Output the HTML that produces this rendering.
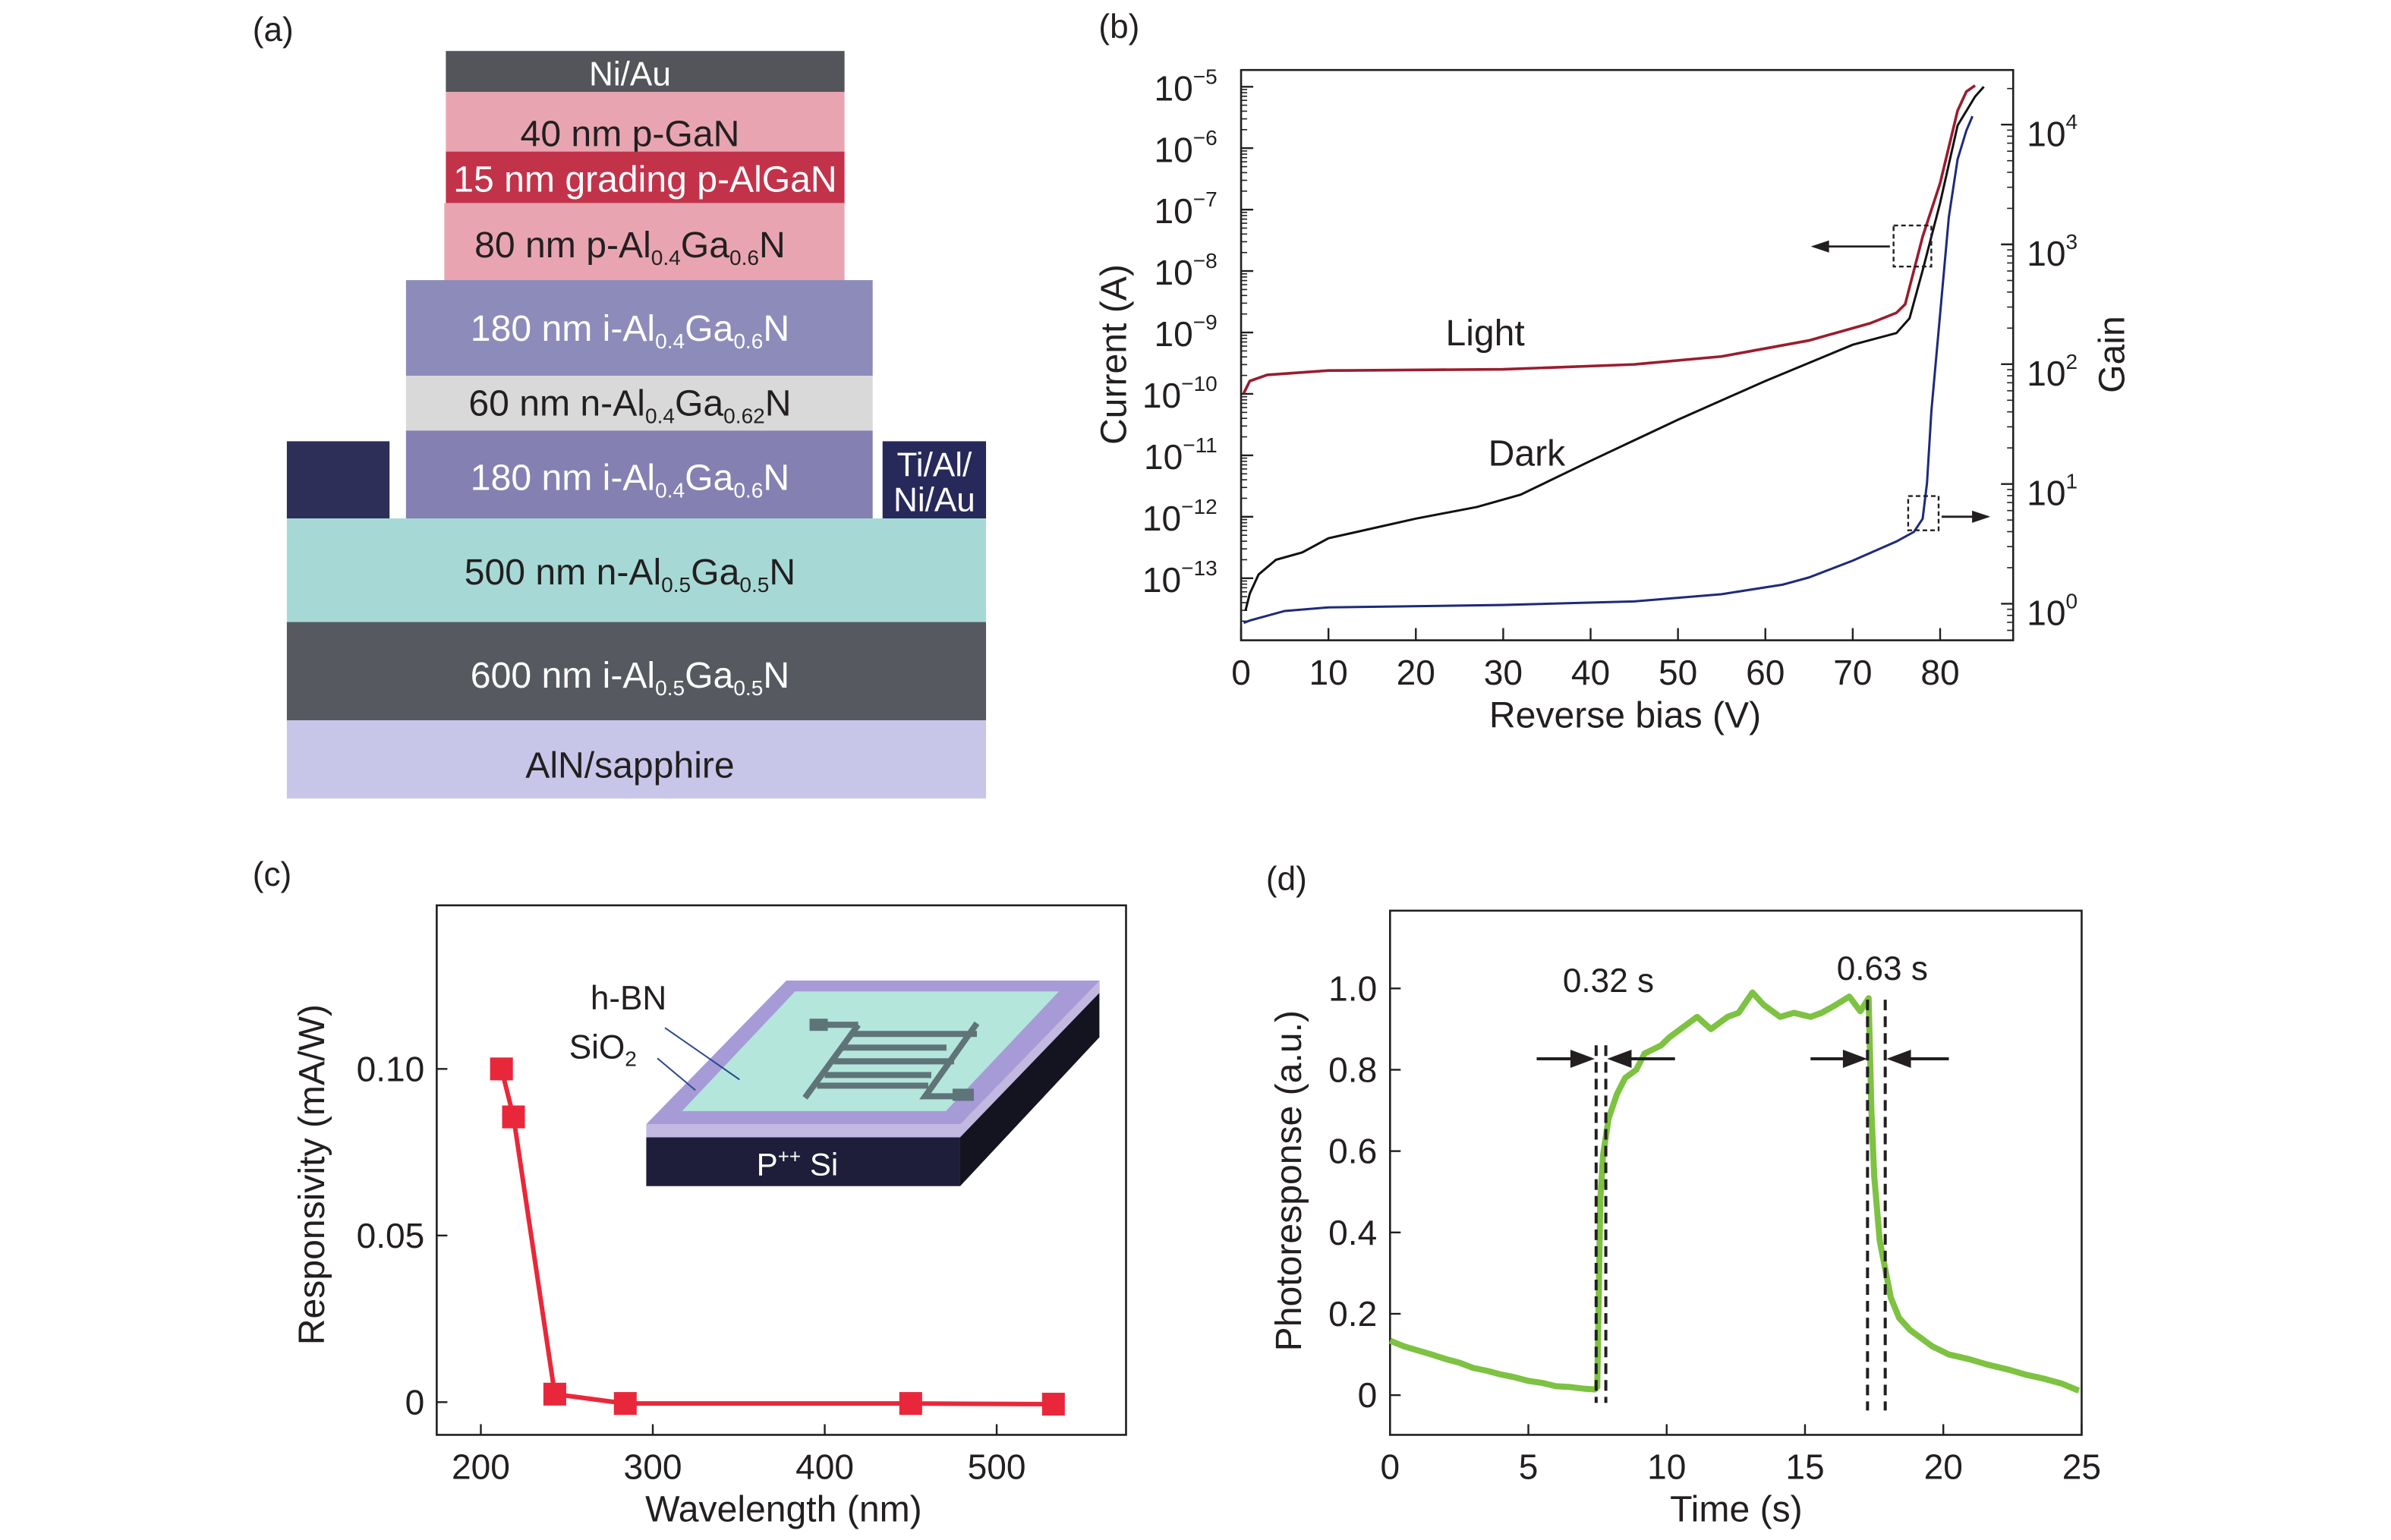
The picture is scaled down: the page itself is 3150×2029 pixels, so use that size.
<!DOCTYPE html>
<html><head><meta charset="utf-8"><style>
html,body{margin:0;padding:0;background:#fff;}
svg{display:block;}
text{font-family:"Liberation Sans Narrow","Liberation Sans",sans-serif;fill:#231f20;}
</style></head><body>
<svg id="fig" width="3150" height="2029" viewBox="0 0 1571.3 1012.1" preserveAspectRatio="none" xmlns="http://www.w3.org/2000/svg">
<rect x="0" y="0" width="1571.3" height="1012.1" fill="#fff"/>
<g font-size="24">
<text x="166" y="27" font-size="22">(a)</text>
<rect x="293" y="33.5" width="262" height="27" fill="#53555b"/>
<text x="414" y="56" text-anchor="middle" style="fill:#fff" font-size="22">Ni/Au</text>
<rect x="293" y="60.4" width="262" height="39.2" fill="#e8a5b1"/>
<text x="414" y="96" text-anchor="middle">40 nm p-GaN</text>
<rect x="293" y="99.6" width="262" height="33.9" fill="#c2334a"/>
<text x="424" y="126" text-anchor="middle" style="fill:#fff">15 nm grading p-AlGaN</text>
<rect x="292" y="133.5" width="263" height="50.6" fill="#e8a5b1"/>
<text x="414" y="169" text-anchor="middle">80 nm p-Al<tspan font-size="14" dy="5">0.4</tspan><tspan dy="-5">Ga</tspan><tspan font-size="14" dy="5">0.6</tspan><tspan dy="-5">N</tspan></text>
<rect x="266.8" y="184.1" width="306.7" height="62.9" fill="#8c8bb9"/>
<text x="414" y="224" text-anchor="middle" style="fill:#fff">180 nm i-Al<tspan font-size="14" dy="5">0.4</tspan><tspan dy="-5">Ga</tspan><tspan font-size="14" dy="5">0.6</tspan><tspan dy="-5">N</tspan></text>
<rect x="266.8" y="247" width="306.7" height="36" fill="#d9d9da"/>
<text x="414" y="273" text-anchor="middle">60 nm n-Al<tspan font-size="14" dy="5">0.4</tspan><tspan dy="-5">Ga</tspan><tspan font-size="14" dy="5">0.62</tspan><tspan dy="-5">N</tspan></text>
<rect x="266.8" y="283" width="306.7" height="57.7" fill="#8480b1"/>
<text x="414" y="322" text-anchor="middle" style="fill:#fff">180 nm i-Al<tspan font-size="14" dy="5">0.4</tspan><tspan dy="-5">Ga</tspan><tspan font-size="14" dy="5">0.6</tspan><tspan dy="-5">N</tspan></text>
<rect x="188.5" y="290" width="67.5" height="50.7" fill="#2d2f58"/>
<rect x="580" y="290" width="68" height="50.7" fill="#27295a"/>
<text x="614" y="313" text-anchor="middle" font-size="22" style="fill:#fff">Ti/Al/</text>
<text x="614" y="336" text-anchor="middle" font-size="22" style="fill:#fff">Ni/Au</text>
<rect x="188.5" y="340.7" width="459.5" height="68.1" fill="#a6d9d6"/>
<text x="414" y="384" text-anchor="middle">500 nm n-Al<tspan font-size="14" dy="5">0.5</tspan><tspan dy="-5">Ga</tspan><tspan font-size="14" dy="5">0.5</tspan><tspan dy="-5">N</tspan></text>
<rect x="188.5" y="408.8" width="459.5" height="64.6" fill="#565a60"/>
<text x="414" y="452" text-anchor="middle" style="fill:#fff">600 nm i-Al<tspan font-size="14" dy="5">0.5</tspan><tspan dy="-5">Ga</tspan><tspan font-size="14" dy="5">0.5</tspan><tspan dy="-5">N</tspan></text>
<rect x="188.5" y="473.4" width="459.5" height="51.4" fill="#c8c6e8"/>
<text x="414" y="511" text-anchor="middle">AlN/sapphire</text>
</g>
<g id="pb"></g>
<g id="pc"></g>
<g id="pd"></g>
</svg>
<script>
// ---------- Panel b data ----------
const bTicksX = [0,10,20,30,40,50,60,70,80];
const bCurrentExp = [-5,-6,-7,-8,-9,-10,-11,-12,-13];
const bGainExp = [4,3,2,1,0];
const lightV = [0.3,1,3,10,30,45,55,65,72,75,76,77,78,80,82,83,84];
const lightLogI = [-9.99,-9.79,-9.69,-9.62,-9.60,-9.52,-9.39,-9.13,-8.85,-8.68,-8.54,-7.99,-7.44,-6.57,-5.39,-5.08,-4.98];
const darkV = [0.5,1,2,4,7,10,15,20,27,32,40,50,60,70,75,76.5,78,80,82,84,85];
const darkLogI = [-13.53,-13.25,-12.94,-12.70,-12.58,-12.35,-12.19,-12.03,-11.84,-11.64,-11.09,-10.42,-9.79,-9.20,-9.01,-8.77,-7.99,-6.89,-5.63,-5.16,-5.0];
const gainV = [0.3,1,5,10,30,45,55,62,65,70,75,77,78,78.5,79,80,81,82,83,83.7];
const gainLog = [-0.16,-0.14,-0.06,-0.03,-0.01,0.02,0.08,0.16,0.22,0.36,0.52,0.60,0.71,1.01,1.61,2.42,3.23,3.71,3.95,4.07];
// ---------- Panel c data ----------
const cTicksX = [200,300,400,500];
const cTicksY = [0,0.05,0.10];
const cTickLabelsY = ["0","0.05","0.10"];
const wavelength = [212,219,243,284,450,533];
const responsivity = [0.100,0.0856,0.0024,-0.0004,-0.0004,-0.0006];
// ---------- Panel d data ----------
const dTicksX = [0,5,10,15,20,25];
const dTicksY = [0,0.2,0.4,0.6,0.8,1.0];
const dTickLabelsY = ["0","0.2","0.4","0.6","0.8","1.0"];
const timeS = [0,0.5,1,1.5,2,2.5,3,3.5,4,4.5,5,5.5,6,6.5,7,7.4,7.49,7.6,7.7,7.9,8.2,8.5,8.9,9.2,9.5,9.8,10.1,10.5,11.1,11.6,12.2,12.6,13.1,13.5,14.1,14.6,15.2,15.6,16.0,16.6,17.0,17.3,17.4,17.5,17.7,18.1,18.4,18.8,19.6,20.2,20.9,21.6,22.4,23.0,23.6,24.3,24.9];
const photoresp = [0.134,0.12,0.11,0.10,0.089,0.08,0.067,0.06,0.051,0.044,0.035,0.03,0.022,0.02,0.016,0.014,0.02,0.48,0.59,0.68,0.74,0.78,0.80,0.84,0.85,0.86,0.88,0.90,0.93,0.90,0.93,0.94,0.99,0.96,0.93,0.94,0.93,0.94,0.955,0.98,0.944,0.976,0.70,0.54,0.38,0.24,0.19,0.16,0.12,0.10,0.089,0.075,0.062,0.05,0.041,0.028,0.011];
const dMarkerT = [7.45,7.8,17.26,17.9];

const NS = "http://www.w3.org/2000/svg";
function mk(parent, tag, attrs, txt){
  const e = document.createElementNS(NS, tag);
  for (const k in attrs) e.setAttribute(k, attrs[k]);
  if (txt !== undefined) e.textContent = txt;
  parent.appendChild(e);
  return e;
}
function pathFrom(xs, ys, fx, fy){
  return xs.map((v,i)=>(i?'L':'M')+fx(v).toFixed(2)+','+fy(ys[i]).toFixed(2)).join(' ');
}

// ===== Panel b =====
(function(){
  const g = document.getElementById('pb');
  const L=815.6,R=1323,T=46,B=420.8;
  const bx = v => L + v*(1275-815.6)/80;
  const by = l => 57 + (-5 - l)*((380-57)/8);
  const gy = l => 396.8 - l*((396.8-81.9)/4);
  let t = mk(g,'text',{x:722,y:25,'font-size':22},'(b)');
  
  
  const frame = mk(g,'rect',{x:L,y:T,width:R-L,height:B-T,fill:'none',stroke:'#231f20','stroke-width':1.3});
  
  
  bTicksX.forEach(v=>{
    const tk = mk(g,'line',{x1:bx(v),x2:bx(v),y1:B,y2:B-8,stroke:'#231f20','stroke-width':1.2});
    
    
    const lb = mk(g,'text',{x:bx(v),y:450,'text-anchor':'middle','font-size':23},String(v));
    
    
  });
  bCurrentExp.forEach(e=>{
    const y = by(e);
    const tk = mk(g,'line',{x1:L,x2:L+8,y1:y,y2:y,stroke:'#231f20','stroke-width':1.2});
    
    
    for(let m=2;m<=9;m++){
      const ym = by(e-1+Math.log10(m));
      if (ym < B-1 && ym > T+1) mk(g,'line',{x1:L,x2:L+4,y1:ym,y2:ym,stroke:'#231f20','stroke-width':0.8});
    }
    const lb = mk(g,'text',{x:800,y:y+9,'text-anchor':'end','font-size':23});
    
    
    mk(lb,'tspan',{},'10');
    mk(lb,'tspan',{'font-size':14,dy:-11},'\u2212'+(-e));
  });
  bGainExp.forEach(e=>{
    const y = gy(e);
    const tk = mk(g,'line',{x1:R,x2:R-8,y1:y,y2:y,stroke:'#231f20','stroke-width':1.2});
    
    
    for(let m=2;m<=9;m++){
      const ym = gy(e-1+Math.log10(m));
      if (ym < B-1 && ym > T+1) mk(g,'line',{x1:R,x2:R-4,y1:ym,y2:ym,stroke:'#231f20','stroke-width':0.8});
    }
    if (e===4) for(let m=2;m<=9;m++){const ym=gy(4+Math.log10(m)); if(ym>T+1) mk(g,'line',{x1:R,x2:R-4,y1:ym,y2:ym,stroke:'#231f20','stroke-width':0.8});}
    const lb = mk(g,'text',{x:1332,y:y+14,'text-anchor':'start','font-size':23});
    
    
    mk(lb,'tspan',{},'10');
    mk(lb,'tspan',{'font-size':14,dy:-11},String(e));
  });
  let a = mk(g,'text',{x:0,y:0,'text-anchor':'middle','font-size':24,transform:'translate(740,233) rotate(-90)','font-family':'Liberation Sans, sans-serif'},'Current (A)');
  
  
  a = mk(g,'text',{x:0,y:0,'text-anchor':'middle','font-size':24,transform:'translate(1396,233) rotate(-90)','font-family':'Liberation Sans, sans-serif'},'Gain');
  
  
  a = mk(g,'text',{x:1068,y:478,'text-anchor':'middle','font-size':24},'Reverse bias (V)');
  
  
  let p = mk(g,'path',{d:pathFrom(lightV,lightLogI,bx,by),fill:'none',stroke:'#9a1d2e','stroke-width':1.8});
  
  
  p = mk(g,'path',{d:pathFrom(darkV,darkLogI,bx,by),fill:'none',stroke:'#111','stroke-width':1.5});
  
  
  p = mk(g,'path',{d:pathFrom(gainV,gainLog,bx,gy),fill:'none',stroke:'#1e2a7a','stroke-width':1.5});
  
  
  a = mk(g,'text',{x:950,y:227,'font-size':24},'Light');
  
  
  a = mk(g,'text',{x:978,y:306,'font-size':24},'Dark');
  
  
  a = mk(g,'rect',{x:1244.4,y:148.2,width:24.8,height:27,fill:'none',stroke:'#231f20','stroke-width':1.2,'stroke-dasharray':'3,2'});
  
  
  mk(g,'line',{x1:1242,x2:1200,y1:162,y2:162,stroke:'#231f20','stroke-width':1.4});
  mk(g,'path',{d:'M1190,162 L1202,158 L1202,166 Z',fill:'#231f20'});
  a = mk(g,'rect',{x:1254,y:326,width:20,height:22.5,fill:'none',stroke:'#231f20','stroke-width':1.2,'stroke-dasharray':'3,2'});
  
  
  mk(g,'line',{x1:1276,x2:1298,y1:339.6,y2:339.6,stroke:'#231f20','stroke-width':1.4});
  mk(g,'path',{d:'M1308,339.6 L1296,335.6 L1296,343.6 Z',fill:'#231f20'});
})();

// ===== Panel c =====
(function(){
  const g = document.getElementById('pc');
  const L=287,R=740,T=595,B=943;
  const cx = v => 316 + (v-200)*(655-316)/300;
  const cy = v => 921.5 - v*(921.5-702.5)/0.10;
  let t = mk(g,'text',{x:166,y:582,'font-size':22},'(c)');
  
  
  const ins = mk(g,'g',{transform:'translate(2,7.5)'});
  
  
  mk(ins,'path',{d:'M720.5,636.9 L720.5,674.2 L629,772 L629,731.3 Z',fill:'#141420'});
  mk(ins,'path',{d:'M422.7,739.9 L629,739.9 L629,772 L422.7,772 Z',fill:'#1e1e3a'});
  mk(ins,'path',{d:'M422.7,731.3 L629,731.3 L720.5,636.9 L720.5,645 L629,739.9 L422.7,739.9 Z',fill:'#c3b8e0'});
  mk(ins,'path',{d:'M514.8,636.9 L720.5,636.9 L629,731.3 L422.7,731.3 Z',fill:'#a69bd6'});
  mk(ins,'path',{d:'M520.5,644.1 L693.9,644.1 L619.6,722.7 L446.2,722.7 Z',fill:'#b4e6dc'});
  const el = mk(ins,'g',{stroke:'#5f7478','stroke-width':4,fill:'none'});
  
  
  mk(el,'path',{d:'M540,666 L562,666 M562,666 L527,714 M558,672 L640,672 M552,681 L620,681 M546,690 L625,690 M540,699 L610,699 M535,706 L608,706 M640,665 L606,713 L628,713'});
  mk(el,'rect',{x:530,y:662,width:12,height:8,fill:'#5f7478','stroke-width':0});
  mk(el,'rect',{x:624,y:708,width:14,height:8,fill:'#5f7478','stroke-width':0});
  mk(ins,'text',{x:386,y:656,'font-size':22},'h-BN');
  const so = mk(ins,'text',{x:372,y:688,'font-size':22});
  mk(so,'tspan',{},'SiO');
  mk(so,'tspan',{'font-size':14,dy:5},'2');
  const ps = mk(ins,'text',{x:522,y:765,'text-anchor':'middle','font-size':21,style:'fill:#fff'});
  mk(ps,'tspan',{},'P');
  mk(ps,'tspan',{'font-size':13,dy:-8},'++');
  mk(ps,'tspan',{dy:8},' Si');
  mk(ins,'line',{x1:435,y1:668,x2:484,y2:702,stroke:'#2b4a8a','stroke-width':1});
  mk(ins,'line',{x1:430,y1:688,x2:455,y2:709,stroke:'#2b4a8a','stroke-width':1});

  const frame = mk(g,'rect',{x:L,y:T,width:R-L,height:B-T,fill:'none',stroke:'#231f20','stroke-width':1.3});
  
  
  cTicksX.forEach(v=>{
    const tk = mk(g,'line',{x1:cx(v),x2:cx(v),y1:B,y2:B-7,stroke:'#231f20','stroke-width':1.2});
    
    
    const lb = mk(g,'text',{x:cx(v),y:972,'text-anchor':'middle','font-size':23},String(v));
    
    
  });
  cTicksY.forEach((v,i)=>{
    const tk = mk(g,'line',{x1:L,x2:L+7,y1:cy(v),y2:cy(v),stroke:'#231f20','stroke-width':1.2});
    
    
    const lb = mk(g,'text',{x:279,y:cy(v)+8,'text-anchor':'end','font-size':23},cTickLabelsY[i]);
    
    
  });
  let a = mk(g,'text',{x:0,y:0,'text-anchor':'middle','font-size':24,transform:'translate(213,772) rotate(-90)','font-family':'Liberation Sans, sans-serif'},'Responsivity (mA/W)');
  
  
  a = mk(g,'text',{x:515,y:1000,'text-anchor':'middle','font-size':24},'Wavelength (nm)');
  
  
  const ln = mk(g,'path',{d:pathFrom(wavelength,responsivity,cx,cy),fill:'none',stroke:'#e8283a','stroke-width':3});
  
  
  wavelength.forEach((w,i)=>{
    const m = mk(g,'rect',{x:cx(w)-7.5,y:cy(responsivity[i])-7.5,width:15,height:15,fill:'#e8283a'});
    
    
  });
})();

// ===== Panel d =====
(function(){
  const g = document.getElementById('pd');
  const L=913.5,R=1368,T=598.5,B=943;
  const dx = v => L + v*(R-L)/25;
  const dy = v => 916.9 - v*(909.4-642.1);
  let t = mk(g,'text',{x:832,y:585,'font-size':22},'(d)');
  
  
  const frame = mk(g,'rect',{x:L,y:T,width:R-L,height:B-T,fill:'none',stroke:'#231f20','stroke-width':1.3});
  
  
  dTicksX.forEach(v=>{
    const tk = mk(g,'line',{x1:dx(v),x2:dx(v),y1:B,y2:B-7,stroke:'#231f20','stroke-width':1.2});
    
    
    const lb = mk(g,'text',{x:dx(v),y:972,'text-anchor':'middle','font-size':23},String(v));
    
    
  });
  dTicksY.forEach((v,i)=>{
    const tk = mk(g,'line',{x1:L,x2:L+7,y1:dy(v),y2:dy(v),stroke:'#231f20','stroke-width':1.2});
    
    
    const lb = mk(g,'text',{x:905,y:dy(v)+8,'text-anchor':'end','font-size':23},dTickLabelsY[i]);
    
    
  });
  let a = mk(g,'text',{x:0,y:0,'text-anchor':'middle','font-size':24,transform:'translate(855,776) rotate(-90)','font-family':'Liberation Sans, sans-serif'},'Photoresponse (a.u.)');
  
  
  a = mk(g,'text',{x:1141,y:1000,'text-anchor':'middle','font-size':24},'Time (s)');
  
  
  const c = mk(g,'path',{d:pathFrom(timeS,photoresp,dx,dy),fill:'none',stroke:'#7dc242','stroke-width':4,'stroke-linejoin':'round'});
  
  
  const tops = [687, 687, 657, 657];
  const bots = [922, 922, 927, 927];
  dMarkerT.forEach((tt,i)=>{
    const d = mk(g,'line',{x1:dx(tt),x2:dx(tt),y1:tops[i],y2:bots[i],stroke:'#231f20','stroke-width':2,'stroke-dasharray':'7,4'});
    
    
  });
  const ya = dy(0.827);
  function arrow(x1,x2,name){
    const ar = mk(g,'g',{});
    
    
    const dir = x2>x1?1:-1;
    mk(ar,'line',{x1:x1,x2:x2-dir*12,y1:ya,y2:ya,stroke:'#231f20','stroke-width':2});
    mk(ar,'path',{d:`M${x2},${ya} L${x2-dir*16},${ya-6} L${x2-dir*16},${ya+6} Z`,fill:'#231f20'});
  }
  arrow(dx(5.3),dx(7.4),'rise-arrow-left');
  arrow(dx(10.3),dx(7.85),'rise-arrow-right');
  arrow(dx(15.2),dx(17.25),'fall-arrow-left');
  arrow(dx(20.2),dx(17.95),'fall-arrow-right');
  a = mk(g,'text',{x:1057,y:652,'text-anchor':'middle','font-size':22},'0.32 s');
  
  
  a = mk(g,'text',{x:1237,y:644,'text-anchor':'middle','font-size':22},'0.63 s');
  
  
})();
</script>
</body></html>
